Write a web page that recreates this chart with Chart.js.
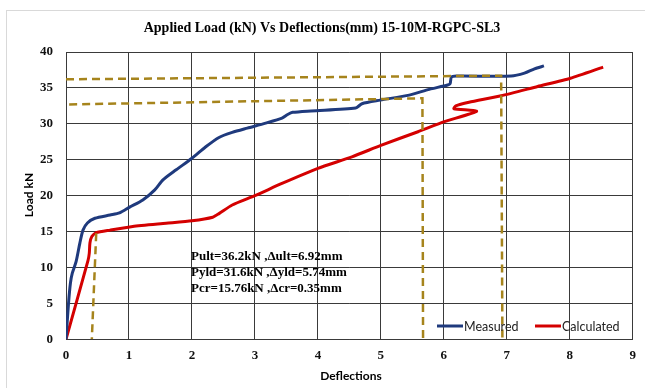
<!DOCTYPE html>
<html lang="en">
<head>
    <meta charset="UTF-8">
    <title>Applied Load Vs Deflections</title>
    <script src="https://cdn.jsdelivr.net/npm/chart.js"></script>
    <style>
        html, body { margin: 0; padding: 0; background: #fff; }
        .wrap { position: relative; width: 645px; height: 388px; }
    </style>
</head>
<body>
    <div class="wrap">
        <canvas id="loadChart" width="645" height="388"></canvas>
    </div>

    <script>
        // measured curve
        var measuredX = [0, 0.04, 0.07, 0.1, 0.16, 0.22, 0.27, 0.34, 0.46, 0.70, 0.85, 1.01, 1.22, 1.41, 1.54, 1.75, 2.0, 2.22, 2.43, 2.64, 2.88, 3.17, 3.43, 3.52, 3.6, 3.89, 4.6, 4.7, 4.99, 5.45, 5.77, 6.06, 6.1, 6.12, 6.2, 7.07, 7.28, 7.44, 7.59];
        var measuredY = [0, 5, 7.8, 9.2, 10.8, 13.4, 15.2, 16.2, 16.85, 17.3, 17.6, 18.4, 19.4, 20.8, 22.2, 23.6, 25.2, 26.8, 28.1, 28.8, 29.4, 30.1, 30.8, 31.3, 31.6, 31.8, 32.2, 32.8, 33.3, 34.0, 34.8, 35.4, 35.6, 36.5, 36.65, 36.65, 37.05, 37.65, 38.06];

        // calculated curve
        var calculatedX = [0, 0.35, 0.37, 0.38, 0.41, 0.48, 0.70, 1.06, 1.59, 2.0, 2.33, 2.43, 2.64, 3.0, 3.43, 4.0, 4.54, 5.0, 5.59, 6.01, 6.52, 6.16, 6.19, 6.4, 6.91, 7.49, 8.01, 8.53];
        var calculatedY = [0, 11.0, 12.0, 13.4, 14.3, 14.85, 15.2, 15.7, 16.15, 16.5, 17.0, 17.5, 18.7, 20.0, 21.7, 23.8, 25.4, 27.0, 28.9, 30.3, 31.75, 32.1, 32.5, 33.0, 33.9, 35.2, 36.35, 37.9];

        // dashed guide lines (ultimate, yield, cracking)
        var ultX = [0, 6.91, 6.93];
        var ultY = [36.2, 36.7, 0];
        var yldX = [0.05, 5.66, 5.67];
        var yldY = [32.7, 33.55, 0];
        var crX = [0.48, 0.41];
        var crY = [14.76, 0];

        var xTicks = [0, 1, 2, 3, 4, 5, 6, 7, 8, 9];
        var yTicks = [0, 5, 10, 15, 20, 25, 30, 35, 40];

        var notes = [
            'Pult=36.2kN ,\u0394ult=6.92mm',
            'Pyld=31.6kN ,\u0394yld=5.74mm',
            'Pcr=15.76kN ,\u0394cr=0.35mm'
        ];

        function toPoints(xs, ys) {
            var pts = [];
            for (var i = 0; i < xs.length; i++) {
                pts.push({ x: xs[i], y: ys[i] });
            }
            return pts;
        }

        var gold = '#A6841C';
        var blue = '#1F3A7D';
        var red = '#D40000';

        function dashed(xs, ys) {
            return {
                label: '',
                data: toPoints(xs, ys),
                borderColor: gold,
                borderWidth: 2.5,
                borderDash: [8, 5],
                pointRadius: 0,
                tension: 0,
                order: 0
            };
        }

        // title, axis names, frame, legend and notes
        var decorPlugin = {
            id: 'decor',
            beforeDraw: function(chart) {
                var ctx = chart.ctx;
                ctx.save();
                ctx.strokeStyle = '#d9d9d9';
                ctx.lineWidth = 1;
                ctx.strokeRect(6.5, 10.5, 700, 400);
                ctx.restore();
            },
            afterDraw: function(chart) {
                var ctx = chart.ctx;
                var area = chart.chartArea;
                ctx.save();
                ctx.fillStyle = '#000';
                ctx.textAlign = 'center';
                ctx.textBaseline = 'middle';
                ctx.font = 'bold 14px "Liberation Serif"';
                ctx.fillText('Applied Load (kN) Vs Deflections(mm) 15-10M-RGPC-SL3', 322, 28);

                ctx.font = 'bold 12px Lato';
                ctx.fillText('Deflections', 351, 376);
                ctx.save();
                ctx.translate(29, 195);
                ctx.rotate(-Math.PI / 2);
                ctx.fillText('Load kN', 0, 0);
                ctx.restore();

                // notes
                ctx.textAlign = 'left';
                ctx.font = 'bold 13px "Liberation Serif"';
                var ny = [257, 273, 288.5];
                for (var i = 0; i < notes.length; i++) {
                    ctx.fillText(notes[i], 191, ny[i]);
                }

                // legend
                var items = [
                    { label: 'Measured', color: blue, x: 437 },
                    { label: 'Calculated', color: red, x: 535 }
                ];
                ctx.font = '12.5px Lato';
                items.forEach(function(it) {
                    ctx.strokeStyle = it.color;
                    ctx.lineWidth = 3;
                    ctx.beginPath();
                    ctx.moveTo(it.x, 326);
                    ctx.lineTo(it.x + 26, 326);
                    ctx.stroke();
                    ctx.fillStyle = '#222';
                    ctx.fillText(it.label, it.x + 27, 326.5);
                });
                ctx.restore();
            }
        };

        var ctx = document.getElementById('loadChart').getContext('2d');
        var loadChart = new Chart(ctx, {
            type: 'line',
            data: {
                datasets: [
                    dashed(ultX, ultY),
                    dashed(yldX, yldY),
                    dashed(crX, crY),
                    {
                        label: 'Measured',
                        data: toPoints(measuredX, measuredY),
                        borderColor: blue,
                        borderWidth: 3,
                        pointRadius: 0,
                        tension: 0.25,
                        order: 1
                    },
                    {
                        label: 'Calculated',
                        data: toPoints(calculatedX, calculatedY),
                        borderColor: red,
                        borderWidth: 3,
                        pointRadius: 0,
                        tension: 0.2,
                        order: 2
                    }
                ]
            },
            options: {
                responsive: false,
                animation: false,
                layout: { padding: { top: 52, right: 9, left: 0, bottom: 0 } },
                plugins: {
                    legend: { display: false },
                    title: { display: false },
                    tooltip: { enabled: false }
                },
                scales: {
                    x: {
                        type: 'linear',
                        min: 0,
                        max: 9,
                        afterBuildTicks: function(axis) {
                            axis.ticks = xTicks.map(function(v) { return { value: v }; });
                        },
                        afterFit: function(axis) { axis.height = 48.7; },
                        grid: { color: '#3a3a3a', lineWidth: 1, drawTicks: false },
                        border: { color: '#3a3a3a', width: 1 },
                        ticks: {
                            padding: 9,
                            color: '#111',
                            font: { family: '"Liberation Serif"', size: 13, weight: 'bold' }
                        }
                    },
                    y: {
                        type: 'linear',
                        min: 0,
                        max: 40,
                        afterBuildTicks: function(axis) {
                            axis.ticks = yTicks.map(function(v) { return { value: v }; });
                        },
                        afterFit: function(axis) { axis.width = 66; },
                        grid: { color: '#3a3a3a', lineWidth: 1, drawTicks: false },
                        border: { color: '#3a3a3a', width: 1 },
                        ticks: {
                            padding: 13,
                            color: '#111',
                            font: { family: '"Liberation Serif"', size: 13, weight: 'bold' }
                        }
                    }
                }
            },
            plugins: [decorPlugin]
        });
    </script>
</body>
</html>
